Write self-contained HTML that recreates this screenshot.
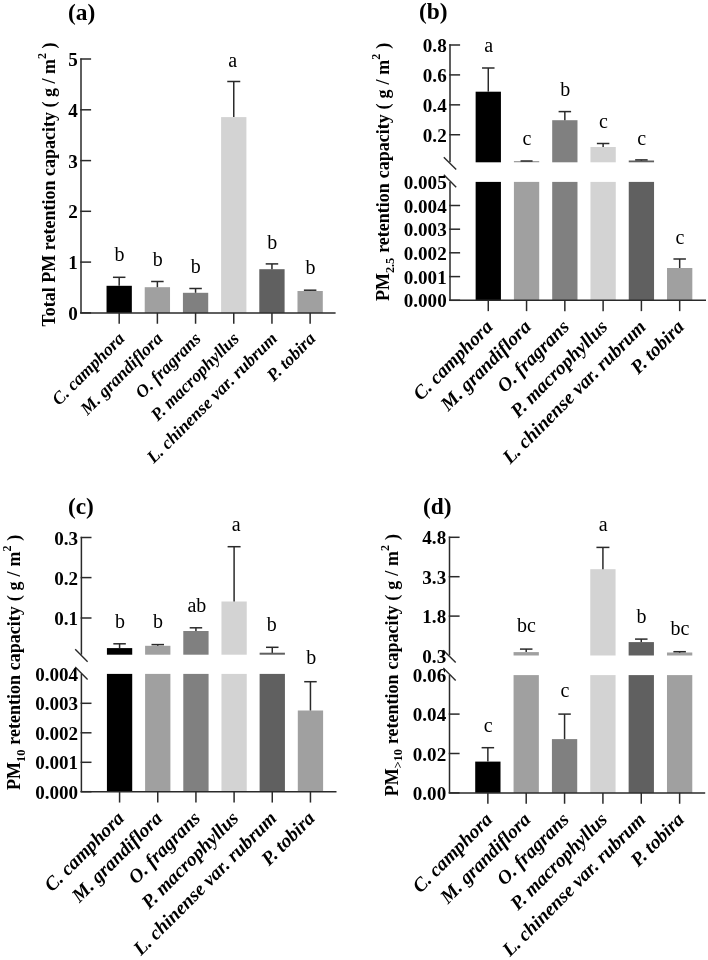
<!DOCTYPE html>
<html><head><meta charset="utf-8"><title>PM retention capacity</title>
<style>
html,body{margin:0;padding:0;background:#fff}
svg{display:block}
text{font-family:"Liberation Serif","Times New Roman",serif;fill:#000}
.pl{font-size:23.4px;font-weight:bold}
.tk{font-size:19.1px;font-weight:bold}
.lt{font-size:20px}
.xl{font-weight:bold;font-style:italic}
.yl{font-size:18px;font-weight:bold}
.sp{font-size:12px}
.sb{font-size:12.3px}
</style></head><body>
<svg width="708" height="960" viewBox="0 0 708 960">
<rect width="708" height="960" fill="#ffffff"/>
<text x="67.9" y="19.9" class="pl" text-anchor="start">(a)</text>
<rect x="106.54" y="285.8" width="25.3" height="27.1" fill="#000000"/>
<rect x="144.73" y="287.2" width="25.3" height="25.7" fill="#a0a0a0"/>
<rect x="182.92" y="292.8" width="25.3" height="20.1" fill="#808080"/>
<rect x="221.11" y="117.1" width="25.3" height="195.8" fill="#d3d3d3"/>
<rect x="259.3" y="269.2" width="25.3" height="43.7" fill="#606060"/>
<rect x="297.49" y="291" width="25.3" height="21.9" fill="#a0a0a0"/>
<line x1="119.19" y1="285.8" x2="119.19" y2="277.3" stroke="#2a2a2a" stroke-width="1.5"/>
<line x1="112.94" y1="277.3" x2="125.44" y2="277.3" stroke="#2a2a2a" stroke-width="1.5"/>
<line x1="157.38" y1="287.2" x2="157.38" y2="281.5" stroke="#2a2a2a" stroke-width="1.5"/>
<line x1="151.13" y1="281.5" x2="163.63" y2="281.5" stroke="#2a2a2a" stroke-width="1.5"/>
<line x1="195.57" y1="292.8" x2="195.57" y2="288.5" stroke="#2a2a2a" stroke-width="1.5"/>
<line x1="189.32" y1="288.5" x2="201.82" y2="288.5" stroke="#2a2a2a" stroke-width="1.5"/>
<line x1="233.76" y1="117.1" x2="233.76" y2="81.5" stroke="#2a2a2a" stroke-width="1.5"/>
<line x1="227.26" y1="81.5" x2="240.26" y2="81.5" stroke="#2a2a2a" stroke-width="1.5"/>
<line x1="271.95" y1="269.2" x2="271.95" y2="263.9" stroke="#2a2a2a" stroke-width="1.5"/>
<line x1="265.7" y1="263.9" x2="278.2" y2="263.9" stroke="#2a2a2a" stroke-width="1.5"/>
<line x1="310.14" y1="291" x2="310.14" y2="290.2" stroke="#2a2a2a" stroke-width="1.5"/>
<line x1="303.89" y1="290.2" x2="316.39" y2="290.2" stroke="#2a2a2a" stroke-width="1.5"/>
<text x="119.49" y="260.9" class="lt" text-anchor="middle">b</text>
<text x="157.68" y="265.5" class="lt" text-anchor="middle">b</text>
<text x="195.87" y="273" class="lt" text-anchor="middle">b</text>
<text x="232.66" y="66.5" class="lt" text-anchor="middle">a</text>
<text x="272.25" y="248.6" class="lt" text-anchor="middle">b</text>
<text x="310.44" y="274" class="lt" text-anchor="middle">b</text>
<line x1="81" y1="58.5" x2="81" y2="312.9" stroke="#2a2a2a" stroke-width="1.5"/>
<line x1="80.25" y1="59" x2="91.1" y2="59" stroke="#2a2a2a" stroke-width="1.5"/>
<text x="77.7" y="66.1" class="tk" text-anchor="end">5</text>
<line x1="80.25" y1="109.8" x2="91.1" y2="109.8" stroke="#2a2a2a" stroke-width="1.5"/>
<text x="77.7" y="116.9" class="tk" text-anchor="end">4</text>
<line x1="80.25" y1="160.6" x2="91.1" y2="160.6" stroke="#2a2a2a" stroke-width="1.5"/>
<text x="77.7" y="167.7" class="tk" text-anchor="end">3</text>
<line x1="80.25" y1="211.3" x2="91.1" y2="211.3" stroke="#2a2a2a" stroke-width="1.5"/>
<text x="77.7" y="218.4" class="tk" text-anchor="end">2</text>
<line x1="80.25" y1="262.1" x2="91.1" y2="262.1" stroke="#2a2a2a" stroke-width="1.5"/>
<text x="77.7" y="269.2" class="tk" text-anchor="end">1</text>
<line x1="80.25" y1="312.9" x2="91.1" y2="312.9" stroke="#2a2a2a" stroke-width="1.5"/>
<text x="77.7" y="320" class="tk" text-anchor="end">0</text>
<line x1="80.25" y1="312.9" x2="335.6" y2="312.9" stroke="#2a2a2a" stroke-width="1.5"/>
<line x1="119.19" y1="312.9" x2="119.19" y2="323.75" stroke="#2a2a2a" stroke-width="1.5"/>
<text class="xl" font-size="17.65" text-anchor="end" transform="translate(125.49,339.6) rotate(-45)">C. camphora</text>
<line x1="157.38" y1="312.9" x2="157.38" y2="323.75" stroke="#2a2a2a" stroke-width="1.5"/>
<text class="xl" font-size="17.65" text-anchor="end" transform="translate(163.68,339.6) rotate(-45)">M. grandiflora</text>
<line x1="195.57" y1="312.9" x2="195.57" y2="323.75" stroke="#2a2a2a" stroke-width="1.5"/>
<text class="xl" font-size="17.65" text-anchor="end" transform="translate(201.87,339.6) rotate(-45)">O. fragrans</text>
<line x1="233.76" y1="312.9" x2="233.76" y2="323.75" stroke="#2a2a2a" stroke-width="1.5"/>
<text class="xl" font-size="17.65" text-anchor="end" transform="translate(240.06,339.6) rotate(-45)">P. macrophyllus</text>
<line x1="271.95" y1="312.9" x2="271.95" y2="323.75" stroke="#2a2a2a" stroke-width="1.5"/>
<text class="xl" font-size="17.65" text-anchor="end" transform="translate(278.25,339.6) rotate(-45)">L. chinense var. rubrum</text>
<line x1="310.14" y1="312.9" x2="310.14" y2="323.75" stroke="#2a2a2a" stroke-width="1.5"/>
<text class="xl" font-size="17.65" text-anchor="end" transform="translate(316.44,339.6) rotate(-45)">P. tobira</text>
<text class="yl" text-anchor="start" word-spacing="0" transform="translate(55,326.5) rotate(-90)">Total PM retention capacity ( g / m<tspan class="sp" dy="-9.5">2</tspan><tspan dy="9.5"> )</tspan></text>
<text x="418.9" y="19" class="pl" text-anchor="start">(b)</text>
<rect x="475.63" y="91.7" width="25.3" height="70.6" fill="#000000"/>
<rect x="475.63" y="181.9" width="25.3" height="118.4" fill="#000000"/>
<rect x="513.91" y="161" width="25.3" height="1.3" fill="#a0a0a0"/>
<rect x="513.91" y="181.9" width="25.3" height="118.4" fill="#a0a0a0"/>
<rect x="552.19" y="120.2" width="25.3" height="42.1" fill="#808080"/>
<rect x="552.19" y="181.9" width="25.3" height="118.4" fill="#808080"/>
<rect x="590.47" y="147" width="25.3" height="15.3" fill="#d3d3d3"/>
<rect x="590.47" y="181.9" width="25.3" height="118.4" fill="#d3d3d3"/>
<rect x="628.75" y="160.5" width="25.3" height="1.8" fill="#606060"/>
<rect x="628.75" y="181.9" width="25.3" height="118.4" fill="#606060"/>
<rect x="667.03" y="268" width="25.3" height="32.3" fill="#a0a0a0"/>
<line x1="488.28" y1="91.7" x2="488.28" y2="68" stroke="#2a2a2a" stroke-width="1.5"/>
<line x1="482.03" y1="68" x2="494.53" y2="68" stroke="#2a2a2a" stroke-width="1.5"/>
<line x1="526.56" y1="161" x2="526.56" y2="161" stroke="#2a2a2a" stroke-width="1.5"/>
<line x1="520.56" y1="161" x2="532.56" y2="161" stroke="#2a2a2a" stroke-width="1.5"/>
<line x1="564.84" y1="120.2" x2="564.84" y2="111.6" stroke="#2a2a2a" stroke-width="1.5"/>
<line x1="558.59" y1="111.6" x2="571.09" y2="111.6" stroke="#2a2a2a" stroke-width="1.5"/>
<line x1="603.12" y1="147" x2="603.12" y2="143.5" stroke="#2a2a2a" stroke-width="1.5"/>
<line x1="596.87" y1="143.5" x2="609.37" y2="143.5" stroke="#2a2a2a" stroke-width="1.5"/>
<line x1="641.4" y1="160.6" x2="641.4" y2="159.9" stroke="#2a2a2a" stroke-width="1.5"/>
<line x1="635.15" y1="159.9" x2="647.65" y2="159.9" stroke="#2a2a2a" stroke-width="1.5"/>
<line x1="679.68" y1="268" x2="679.68" y2="259" stroke="#2a2a2a" stroke-width="1.5"/>
<line x1="673.43" y1="259" x2="685.93" y2="259" stroke="#2a2a2a" stroke-width="1.5"/>
<text x="488.58" y="51.5" class="lt" text-anchor="middle">a</text>
<text x="526.86" y="144.6" class="lt" text-anchor="middle">c</text>
<text x="565.14" y="95.5" class="lt" text-anchor="middle">b</text>
<text x="603.42" y="128" class="lt" text-anchor="middle">c</text>
<text x="641.7" y="144.6" class="lt" text-anchor="middle">c</text>
<text x="679.98" y="243.6" class="lt" text-anchor="middle">c</text>
<line x1="450" y1="44.3" x2="450" y2="162.2" stroke="#2a2a2a" stroke-width="1.5"/>
<line x1="450" y1="181.9" x2="450" y2="300.3" stroke="#2a2a2a" stroke-width="1.5"/>
<line x1="443.8" y1="157.2" x2="456.2" y2="169.6" stroke="#2a2a2a" stroke-width="1.4"/>
<line x1="443.8" y1="174.8" x2="456.2" y2="187.2" stroke="#2a2a2a" stroke-width="1.4"/>
<line x1="449.25" y1="45" x2="460.1" y2="45" stroke="#2a2a2a" stroke-width="1.5"/>
<text x="446.7" y="52.1" class="tk" text-anchor="end">0.8</text>
<line x1="449.25" y1="74.9" x2="460.1" y2="74.9" stroke="#2a2a2a" stroke-width="1.5"/>
<text x="446.7" y="82" class="tk" text-anchor="end">0.6</text>
<line x1="449.25" y1="104.85" x2="460.1" y2="104.85" stroke="#2a2a2a" stroke-width="1.5"/>
<text x="446.7" y="111.95" class="tk" text-anchor="end">0.4</text>
<line x1="449.25" y1="134.75" x2="460.1" y2="134.75" stroke="#2a2a2a" stroke-width="1.5"/>
<text x="446.7" y="141.85" class="tk" text-anchor="end">0.2</text>
<text x="446.7" y="189" class="tk" text-anchor="end">0.005</text>
<line x1="449.25" y1="205.5" x2="460.1" y2="205.5" stroke="#2a2a2a" stroke-width="1.5"/>
<text x="446.7" y="212.6" class="tk" text-anchor="end">0.004</text>
<line x1="449.25" y1="229.2" x2="460.1" y2="229.2" stroke="#2a2a2a" stroke-width="1.5"/>
<text x="446.7" y="236.3" class="tk" text-anchor="end">0.003</text>
<line x1="449.25" y1="252.8" x2="460.1" y2="252.8" stroke="#2a2a2a" stroke-width="1.5"/>
<text x="446.7" y="259.9" class="tk" text-anchor="end">0.002</text>
<line x1="449.25" y1="276.6" x2="460.1" y2="276.6" stroke="#2a2a2a" stroke-width="1.5"/>
<text x="446.7" y="283.7" class="tk" text-anchor="end">0.001</text>
<line x1="449.25" y1="300.3" x2="460.1" y2="300.3" stroke="#2a2a2a" stroke-width="1.5"/>
<text x="446.7" y="307.4" class="tk" text-anchor="end">0.000</text>
<line x1="449.25" y1="300.3" x2="706" y2="300.3" stroke="#2a2a2a" stroke-width="1.5"/>
<line x1="488.28" y1="300.3" x2="488.28" y2="311.15" stroke="#2a2a2a" stroke-width="1.5"/>
<text class="xl" font-size="19.4" text-anchor="end" transform="translate(493.78,328) rotate(-45)">C. camphora</text>
<line x1="526.56" y1="300.3" x2="526.56" y2="311.15" stroke="#2a2a2a" stroke-width="1.5"/>
<text class="xl" font-size="19.4" text-anchor="end" transform="translate(532.06,328) rotate(-45)">M. grandiflora</text>
<line x1="564.84" y1="300.3" x2="564.84" y2="311.15" stroke="#2a2a2a" stroke-width="1.5"/>
<text class="xl" font-size="19.4" text-anchor="end" transform="translate(570.34,328) rotate(-45)">O. fragrans</text>
<line x1="603.12" y1="300.3" x2="603.12" y2="311.15" stroke="#2a2a2a" stroke-width="1.5"/>
<text class="xl" font-size="19.4" text-anchor="end" transform="translate(608.62,328) rotate(-45)">P. macrophyllus</text>
<line x1="641.4" y1="300.3" x2="641.4" y2="311.15" stroke="#2a2a2a" stroke-width="1.5"/>
<text class="xl" font-size="19.4" text-anchor="end" transform="translate(646.9,328) rotate(-45)">L. chinense var. rubrum</text>
<line x1="679.68" y1="300.3" x2="679.68" y2="311.15" stroke="#2a2a2a" stroke-width="1.5"/>
<text class="xl" font-size="19.4" text-anchor="end" transform="translate(685.18,328) rotate(-45)">P. tobira</text>
<text class="yl" text-anchor="start" word-spacing="0.4" transform="translate(389,301.1) rotate(-90)">PM<tspan class="sb" dy="4.5">2.5</tspan><tspan dy="-4.5"> retention</tspan> capacity ( g / m<tspan class="sp" dy="-9.5">2</tspan><tspan dy="9.5"> )</tspan></text>
<text x="67.9" y="514" class="pl" text-anchor="start">(c)</text>
<rect x="106.92" y="648.1" width="25.3" height="6.6" fill="#000000"/>
<rect x="106.92" y="673.9" width="25.3" height="117.8" fill="#000000"/>
<rect x="145.1" y="645.8" width="25.3" height="8.9" fill="#a0a0a0"/>
<rect x="145.1" y="673.9" width="25.3" height="117.8" fill="#a0a0a0"/>
<rect x="183.28" y="631" width="25.3" height="23.7" fill="#808080"/>
<rect x="183.28" y="673.9" width="25.3" height="117.8" fill="#808080"/>
<rect x="221.45" y="601.5" width="25.3" height="53.2" fill="#d3d3d3"/>
<rect x="221.45" y="673.9" width="25.3" height="117.8" fill="#d3d3d3"/>
<rect x="259.62" y="652.7" width="25.3" height="2" fill="#606060"/>
<rect x="259.62" y="673.9" width="25.3" height="117.8" fill="#606060"/>
<rect x="297.8" y="710.5" width="25.3" height="81.2" fill="#a0a0a0"/>
<line x1="119.58" y1="648.1" x2="119.58" y2="643.8" stroke="#2a2a2a" stroke-width="1.5"/>
<line x1="113.33" y1="643.8" x2="125.83" y2="643.8" stroke="#2a2a2a" stroke-width="1.5"/>
<line x1="157.75" y1="645.8" x2="157.75" y2="644.6" stroke="#2a2a2a" stroke-width="1.5"/>
<line x1="151.5" y1="644.6" x2="164" y2="644.6" stroke="#2a2a2a" stroke-width="1.5"/>
<line x1="195.93" y1="631" x2="195.93" y2="627.8" stroke="#2a2a2a" stroke-width="1.5"/>
<line x1="189.68" y1="627.8" x2="202.18" y2="627.8" stroke="#2a2a2a" stroke-width="1.5"/>
<line x1="234.1" y1="601.5" x2="234.1" y2="546.7" stroke="#2a2a2a" stroke-width="1.5"/>
<line x1="227.6" y1="546.7" x2="240.6" y2="546.7" stroke="#2a2a2a" stroke-width="1.5"/>
<line x1="272.27" y1="652.9" x2="272.27" y2="647.3" stroke="#2a2a2a" stroke-width="1.5"/>
<line x1="266.02" y1="647.3" x2="278.52" y2="647.3" stroke="#2a2a2a" stroke-width="1.5"/>
<line x1="310.45" y1="710.5" x2="310.45" y2="681.7" stroke="#2a2a2a" stroke-width="1.5"/>
<line x1="304.2" y1="681.7" x2="316.7" y2="681.7" stroke="#2a2a2a" stroke-width="1.5"/>
<text x="119.88" y="627.5" class="lt" text-anchor="middle">b</text>
<text x="158.05" y="627.5" class="lt" text-anchor="middle">b</text>
<text x="196.93" y="611.6" class="lt" text-anchor="middle">ab</text>
<text x="236.3" y="531" class="lt" text-anchor="middle">a</text>
<text x="271.77" y="631" class="lt" text-anchor="middle">b</text>
<text x="311.25" y="664.3" class="lt" text-anchor="middle">b</text>
<line x1="81.4" y1="536.8" x2="81.4" y2="654.7" stroke="#2a2a2a" stroke-width="1.5"/>
<line x1="81.4" y1="673.9" x2="81.4" y2="791.7" stroke="#2a2a2a" stroke-width="1.5"/>
<line x1="75.2" y1="649.3" x2="87.6" y2="661.7" stroke="#2a2a2a" stroke-width="1.4"/>
<line x1="75.2" y1="667.1" x2="87.6" y2="679.5" stroke="#2a2a2a" stroke-width="1.4"/>
<line x1="80.65" y1="537.5" x2="91.5" y2="537.5" stroke="#2a2a2a" stroke-width="1.5"/>
<text x="78.1" y="544.6" class="tk" text-anchor="end">0.3</text>
<line x1="80.65" y1="577.6" x2="91.5" y2="577.6" stroke="#2a2a2a" stroke-width="1.5"/>
<text x="78.1" y="584.7" class="tk" text-anchor="end">0.2</text>
<line x1="80.65" y1="618" x2="91.5" y2="618" stroke="#2a2a2a" stroke-width="1.5"/>
<text x="78.1" y="625.1" class="tk" text-anchor="end">0.1</text>
<text x="78.1" y="681" class="tk" text-anchor="end">0.004</text>
<line x1="80.65" y1="703.3" x2="91.5" y2="703.3" stroke="#2a2a2a" stroke-width="1.5"/>
<text x="78.1" y="710.4" class="tk" text-anchor="end">0.003</text>
<line x1="80.65" y1="732.8" x2="91.5" y2="732.8" stroke="#2a2a2a" stroke-width="1.5"/>
<text x="78.1" y="739.9" class="tk" text-anchor="end">0.002</text>
<line x1="80.65" y1="762.3" x2="91.5" y2="762.3" stroke="#2a2a2a" stroke-width="1.5"/>
<text x="78.1" y="769.4" class="tk" text-anchor="end">0.001</text>
<line x1="80.65" y1="791.7" x2="91.5" y2="791.7" stroke="#2a2a2a" stroke-width="1.5"/>
<text x="78.1" y="798.8" class="tk" text-anchor="end">0.000</text>
<line x1="80.65" y1="791.7" x2="336.5" y2="791.7" stroke="#2a2a2a" stroke-width="1.5"/>
<line x1="119.58" y1="791.7" x2="119.58" y2="802.55" stroke="#2a2a2a" stroke-width="1.5"/>
<text class="xl" font-size="19.4" text-anchor="end" transform="translate(125.08,819.4) rotate(-45)">C. camphora</text>
<line x1="157.75" y1="791.7" x2="157.75" y2="802.55" stroke="#2a2a2a" stroke-width="1.5"/>
<text class="xl" font-size="19.4" text-anchor="end" transform="translate(163.25,819.4) rotate(-45)">M. grandiflora</text>
<line x1="195.93" y1="791.7" x2="195.93" y2="802.55" stroke="#2a2a2a" stroke-width="1.5"/>
<text class="xl" font-size="19.4" text-anchor="end" transform="translate(201.43,819.4) rotate(-45)">O. fragrans</text>
<line x1="234.1" y1="791.7" x2="234.1" y2="802.55" stroke="#2a2a2a" stroke-width="1.5"/>
<text class="xl" font-size="19.4" text-anchor="end" transform="translate(239.6,819.4) rotate(-45)">P. macrophyllus</text>
<line x1="272.27" y1="791.7" x2="272.27" y2="802.55" stroke="#2a2a2a" stroke-width="1.5"/>
<text class="xl" font-size="19.4" text-anchor="end" transform="translate(277.77,819.4) rotate(-45)">L. chinense var. rubrum</text>
<line x1="310.45" y1="791.7" x2="310.45" y2="802.55" stroke="#2a2a2a" stroke-width="1.5"/>
<text class="xl" font-size="19.4" text-anchor="end" transform="translate(315.95,819.4) rotate(-45)">P. tobira</text>
<text class="yl" text-anchor="start" word-spacing="0.4" transform="translate(20.3,789.9) rotate(-90)">PM<tspan class="sb" dy="4.2">10</tspan><tspan dy="-4.2"> retention</tspan> capacity ( g / m<tspan class="sp" dy="-9.5">2</tspan><tspan dy="9.5"> )</tspan></text>
<text x="422.9" y="514" class="pl" text-anchor="start">(d)</text>
<rect x="475.21" y="761.6" width="25.3" height="31.3" fill="#000000"/>
<rect x="513.56" y="652.1" width="25.3" height="3.4" fill="#a0a0a0"/>
<rect x="513.56" y="675.1" width="25.3" height="117.8" fill="#a0a0a0"/>
<rect x="551.92" y="739.1" width="25.3" height="53.8" fill="#808080"/>
<rect x="590.27" y="569.2" width="25.3" height="86.3" fill="#d3d3d3"/>
<rect x="590.27" y="675.1" width="25.3" height="117.8" fill="#d3d3d3"/>
<rect x="628.63" y="642.1" width="25.3" height="13.4" fill="#606060"/>
<rect x="628.63" y="675.1" width="25.3" height="117.8" fill="#606060"/>
<rect x="666.98" y="652.5" width="25.3" height="3" fill="#a0a0a0"/>
<rect x="666.98" y="675.1" width="25.3" height="117.8" fill="#a0a0a0"/>
<line x1="487.86" y1="761.6" x2="487.86" y2="747.7" stroke="#2a2a2a" stroke-width="1.5"/>
<line x1="481.61" y1="747.7" x2="494.11" y2="747.7" stroke="#2a2a2a" stroke-width="1.5"/>
<line x1="526.21" y1="652.1" x2="526.21" y2="649.1" stroke="#2a2a2a" stroke-width="1.5"/>
<line x1="519.96" y1="649.1" x2="532.46" y2="649.1" stroke="#2a2a2a" stroke-width="1.5"/>
<line x1="564.57" y1="739.1" x2="564.57" y2="714.1" stroke="#2a2a2a" stroke-width="1.5"/>
<line x1="558.32" y1="714.1" x2="570.82" y2="714.1" stroke="#2a2a2a" stroke-width="1.5"/>
<line x1="602.92" y1="569.2" x2="602.92" y2="547.4" stroke="#2a2a2a" stroke-width="1.5"/>
<line x1="596.42" y1="547.4" x2="609.42" y2="547.4" stroke="#2a2a2a" stroke-width="1.5"/>
<line x1="641.28" y1="642.1" x2="641.28" y2="639.1" stroke="#2a2a2a" stroke-width="1.5"/>
<line x1="635.03" y1="639.1" x2="647.53" y2="639.1" stroke="#2a2a2a" stroke-width="1.5"/>
<line x1="679.63" y1="652.7" x2="679.63" y2="651.7" stroke="#2a2a2a" stroke-width="1.5"/>
<line x1="673.38" y1="651.7" x2="685.88" y2="651.7" stroke="#2a2a2a" stroke-width="1.5"/>
<text x="488.16" y="732" class="lt" text-anchor="middle">c</text>
<text x="526.51" y="631.8" class="lt" text-anchor="middle">bc</text>
<text x="564.87" y="697.3" class="lt" text-anchor="middle">c</text>
<text x="603.22" y="530.9" class="lt" text-anchor="middle">a</text>
<text x="641.58" y="623.2" class="lt" text-anchor="middle">b</text>
<text x="679.93" y="634.9" class="lt" text-anchor="middle">bc</text>
<line x1="449.5" y1="536.6" x2="449.5" y2="655.5" stroke="#2a2a2a" stroke-width="1.5"/>
<line x1="449.5" y1="674.7" x2="449.5" y2="792.9" stroke="#2a2a2a" stroke-width="1.5"/>
<line x1="443.3" y1="650.2" x2="455.7" y2="662.6" stroke="#2a2a2a" stroke-width="1.4"/>
<line x1="443.3" y1="668.1" x2="455.7" y2="680.5" stroke="#2a2a2a" stroke-width="1.4"/>
<line x1="448.75" y1="537.3" x2="459.6" y2="537.3" stroke="#2a2a2a" stroke-width="1.5"/>
<text x="446.2" y="544.4" class="tk" text-anchor="end">4.8</text>
<line x1="448.75" y1="576.7" x2="459.6" y2="576.7" stroke="#2a2a2a" stroke-width="1.5"/>
<text x="446.2" y="583.8" class="tk" text-anchor="end">3.3</text>
<line x1="448.75" y1="616.1" x2="459.6" y2="616.1" stroke="#2a2a2a" stroke-width="1.5"/>
<text x="446.2" y="623.2" class="tk" text-anchor="end">1.8</text>
<text x="446.2" y="662.6" class="tk" text-anchor="end">0.3</text>
<text x="446.2" y="681.8" class="tk" text-anchor="end">0.06</text>
<line x1="448.75" y1="714.1" x2="459.6" y2="714.1" stroke="#2a2a2a" stroke-width="1.5"/>
<text x="446.2" y="721.2" class="tk" text-anchor="end">0.04</text>
<line x1="448.75" y1="753.5" x2="459.6" y2="753.5" stroke="#2a2a2a" stroke-width="1.5"/>
<text x="446.2" y="760.6" class="tk" text-anchor="end">0.02</text>
<line x1="448.75" y1="792.9" x2="459.6" y2="792.9" stroke="#2a2a2a" stroke-width="1.5"/>
<text x="446.2" y="800" class="tk" text-anchor="end">0.00</text>
<line x1="448.75" y1="792.9" x2="705.2" y2="792.9" stroke="#2a2a2a" stroke-width="1.5"/>
<line x1="487.86" y1="792.9" x2="487.86" y2="803.75" stroke="#2a2a2a" stroke-width="1.5"/>
<text class="xl" font-size="19.4" text-anchor="end" transform="translate(493.36,820.6) rotate(-45)">C. camphora</text>
<line x1="526.21" y1="792.9" x2="526.21" y2="803.75" stroke="#2a2a2a" stroke-width="1.5"/>
<text class="xl" font-size="19.4" text-anchor="end" transform="translate(531.71,820.6) rotate(-45)">M. grandiflora</text>
<line x1="564.57" y1="792.9" x2="564.57" y2="803.75" stroke="#2a2a2a" stroke-width="1.5"/>
<text class="xl" font-size="19.4" text-anchor="end" transform="translate(570.07,820.6) rotate(-45)">O. fragrans</text>
<line x1="602.92" y1="792.9" x2="602.92" y2="803.75" stroke="#2a2a2a" stroke-width="1.5"/>
<text class="xl" font-size="19.4" text-anchor="end" transform="translate(608.42,820.6) rotate(-45)">P. macrophyllus</text>
<line x1="641.28" y1="792.9" x2="641.28" y2="803.75" stroke="#2a2a2a" stroke-width="1.5"/>
<text class="xl" font-size="19.4" text-anchor="end" transform="translate(646.78,820.6) rotate(-45)">L. chinense var. rubrum</text>
<line x1="679.63" y1="792.9" x2="679.63" y2="803.75" stroke="#2a2a2a" stroke-width="1.5"/>
<text class="xl" font-size="19.4" text-anchor="end" transform="translate(685.13,820.6) rotate(-45)">P. tobira</text>
<text class="yl" text-anchor="start" word-spacing="0.4" transform="translate(398.1,796.3) rotate(-90)">PM<tspan class="sb" dy="4.2">&gt;10</tspan><tspan dy="-4.2"> retention</tspan> capacity ( g / m<tspan class="sp" dy="-9.5">2</tspan><tspan dy="9.5"> )</tspan></text>
</svg>
</body></html>
